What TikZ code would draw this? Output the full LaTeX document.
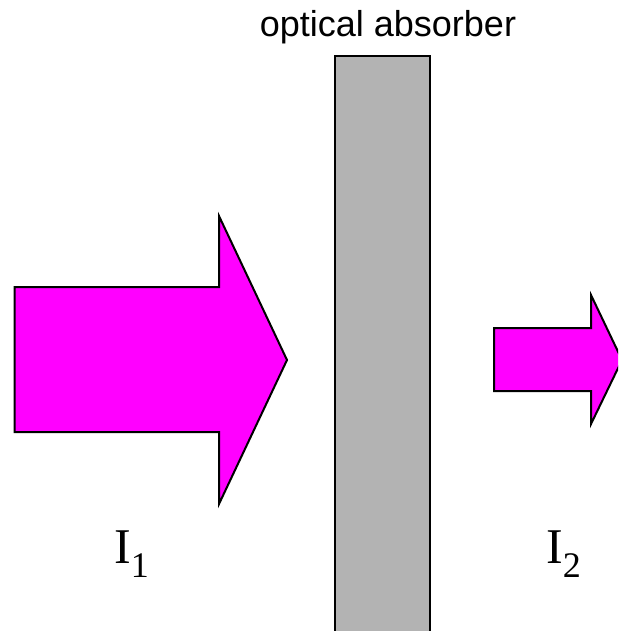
\documentclass[tikz,border=0pt]{standalone}
\usepackage{fontspec}
\setmainfont{Liberation Serif}
\newfontfamily\labelfont{Liberation Sans}
\definecolor{beammag}{HTML}{FF00FF}
\definecolor{slabgray}{HTML}{B3B3B3}
\newcommand{\intens}[1]{{\fontsize{50}{50}\selectfont I\raisebox{-14pt}{\fontsize{36}{36}\selectfont #1}}}
\begin{document}
\begin{tikzpicture}[x=1pt, y=-1pt,
    beam/.style={draw=black, fill=beammag, line width=2pt, line join=miter},
    slab/.style={rectangle, draw=black, fill=slabgray, line width=2.5pt, inner sep=0pt},
    intlabel/.style={anchor=base west, inner sep=0pt}]

    % page
    \useasboundingbox (0,0) rectangle (618,631);
    \clip (0,0) rectangle (618,631);

    % absorber
    \node[slab, minimum width=95pt, minimum height=584pt] (absorber) at (382.5,348) {};
    \node[anchor=base, inner sep=0pt, font=\labelfont\fontsize{36}{40}\selectfont] (abslabel) at (388,37) {optical absorber};

    % incident beam
    \draw[beam] (14.7,287) -- (219,287) -- (219,216) -- (287,360) -- (219,504)
        -- (219,432) -- (14.7,432) -- cycle;

    % transmitted beam
    \draw[beam] (494,328) -- (591,328) -- (591,295) -- (622,360) -- (591,424)
        -- (591,391) -- (494,391) -- cycle;

    % intensities
    \node[intlabel] (i1) at (114,563) {\intens{1}};
    \node[intlabel] (i2) at (546,563) {\intens{2}};

\end{tikzpicture}
\end{document}
